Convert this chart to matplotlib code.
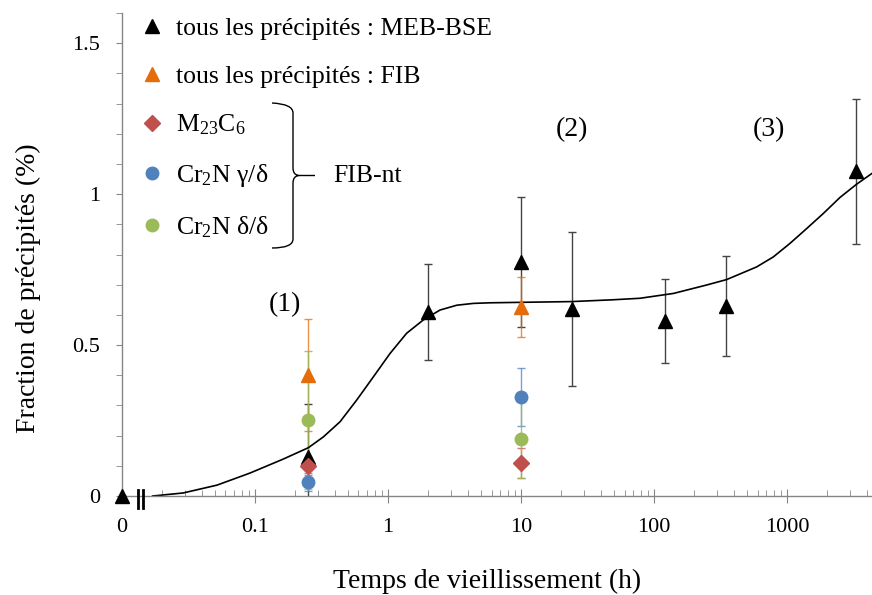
import matplotlib
matplotlib.use('Agg')
import matplotlib.pyplot as plt
from matplotlib.path import Path
from matplotlib.patches import PathPatch
from matplotlib.lines import Line2D
from matplotlib.ticker import FixedLocator, FixedFormatter, LogLocator, MultipleLocator, NullFormatter

plt.rcParams['font.family'] = ['Liberation Serif', 'DejaVu Serif']
plt.rcParams['mathtext.fontset'] = 'custom'
plt.rcParams['mathtext.rm'] = 'Liberation Serif'
plt.rcParams['mathtext.it'] = 'Liberation Serif:italic'

# temps 0 est affiché à la position 0.01 (axe coupé)
T_ZERO = 0.01

# tous les précipités : MEB-BSE
t_meb = [0, 0.25, 2, 10, 24, 120, 350, 3300]
f_meb = [0, 0.13, 0.61, 0.775, 0.62, 0.58, 0.63, 1.075]
e_meb = [0, 0.175, 0.16, 0.215, 0.255, 0.14, 0.165, 0.24]

# tous les précipités : FIB
t_fib = [0.25, 10]
f_fib = [0.40, 0.627]
e_fib = [0.186, 0.10]

# FIB-nt
t_nt = [0.25, 10]
f_m23 = [0.10, 0.11]
e_m23 = [0.03, 0.05]
f_gd = [0.047, 0.328]
e_gd = [0.03, 0.095]
f_dd = [0.252, 0.19]
e_dd = [0.228, 0.13]

# courbe
curve_t = [0.017, 0.0288, 0.0518, 0.0917, 0.1625, 0.252, 0.327, 0.436, 0.582, 0.777,
           1.035, 1.38, 1.84, 2.46, 3.29, 4.38, 5.85, 11.7, 24, 49, 78.5, 140, 249,
           352, 592, 789, 1054, 1406, 1876, 2502, 3339, 4365]
curve_f = [0.0, 0.010, 0.036, 0.076, 0.122, 0.160, 0.196, 0.246, 0.318, 0.395,
           0.472, 0.539, 0.583, 0.616, 0.632, 0.638, 0.640, 0.642, 0.644, 0.650, 0.655,
           0.671, 0.699, 0.717, 0.759, 0.792, 0.837, 0.886, 0.936, 0.989, 1.033, 1.069]

x_ticks = [0.01, 0.1, 1, 10, 100, 1000]
x_labels = ['0', '0.1', '1', '10', '100', '1000']
y_ticks = [0, 0.5, 1, 1.5]
y_labels = ['0', '0.5', '1', '1.5']

BLACK = '#000000'
ORANGE = '#E46C0A'
RED = '#C0504D'
BLUE = '#4F81BD'
GREEN = '#9BBB59'
AXIS = '#868686'

W, H = 872, 595
fig = plt.figure(figsize=(W / 100, H / 100), dpi=100)
ax = fig.add_axes([122 / W, 99 / H, 750 / W, 483 / H])


def px(x, y):
    # pixels -> fraction de figure
    return x / W, 1 - y / H


t_meb_plot = [T_ZERO if t == 0 else t for t in t_meb]

# barres d'erreur
ax.errorbar(t_meb_plot, f_meb, yerr=e_meb, fmt='none', ecolor='#444444', elinewidth=1, capsize=3, zorder=2)
ax.errorbar(t_fib, f_fib, yerr=e_fib, fmt='none', ecolor=ORANGE, elinewidth=1, capsize=3, alpha=0.75, zorder=2)
ax.errorbar(t_nt, f_m23, yerr=e_m23, fmt='none', ecolor=RED, elinewidth=1, capsize=3, alpha=0.75, zorder=2)
ax.errorbar(t_nt, f_gd, yerr=e_gd, fmt='none', ecolor=BLUE, elinewidth=1, capsize=3, alpha=0.75, zorder=2)
ax.errorbar(t_nt, f_dd, yerr=e_dd, fmt='none', ecolor=GREEN, elinewidth=1, capsize=3, alpha=0.85, zorder=2)

# courbe
ax.plot(curve_t, curve_f, color='black', lw=1.2, zorder=2.5)

# points
ax.plot(t_meb_plot, f_meb, '^', color=BLACK, ms=10, ls='none', clip_on=False, zorder=3,
        label='tous les précipités : MEB-BSE')
ax.plot(t_fib, f_fib, '^', color=ORANGE, ms=10, ls='none', zorder=3,
        label='tous les précipités : FIB')
ax.plot(t_nt, f_m23, 'D', color=RED, ms=8, ls='none', zorder=3, label='M$_{23}$C$_6$')
ax.plot(t_nt, f_gd, 'o', color=BLUE, ms=9, ls='none', zorder=3, label='Cr$_2$N γ/δ')
ax.plot(t_nt, f_dd, 'o', color=GREEN, ms=9, ls='none', zorder=3, label='Cr$_2$N δ/δ')

ax.set_xscale('log')
ax.set_xlim(0.01, 10 ** 3.639)
ax.set_ylim(0, 1.6)

ax.xaxis.set_major_locator(FixedLocator(x_ticks))
ax.xaxis.set_major_formatter(FixedFormatter(x_labels))
ax.xaxis.set_minor_locator(LogLocator(base=10, subs=range(2, 10), numticks=20))
ax.xaxis.set_minor_formatter(NullFormatter())
ax.yaxis.set_major_locator(FixedLocator(y_ticks))
ax.yaxis.set_major_formatter(FixedFormatter(y_labels))
ax.yaxis.set_minor_locator(MultipleLocator(0.1))

for s in ['top', 'right']:
    ax.spines[s].set_visible(False)
for s in ['left', 'bottom']:
    ax.spines[s].set_color(AXIS)
    ax.spines[s].set_linewidth(1)

ax.tick_params(axis='x', which='major', direction='inout', length=10, color=AXIS, labelsize=16, pad=11)
ax.tick_params(axis='x', which='minor', direction='in', length=4, color=AXIS)
ax.tick_params(axis='y', which='both', direction='out', length=4, color=AXIS, labelsize=16, pad=12)

ax.set_xlabel('Temps de vieillissement (h)', fontsize=20)
ax.xaxis.set_label_coords(0.487, -0.15)
ax.set_ylabel('Fraction de précipités (%)', fontsize=20)
ax.yaxis.set_label_coords(-0.108, 0.43)

# étiquettes (1), (2), (3)
ax.text(0.168, 0.635, '(1)', fontsize=20, ha='center', va='center')
ax.text(24.2, 1.215, '(2)', fontsize=20, ha='center', va='center')
ax.text(732, 1.215, '(3)', fontsize=20, ha='center', va='center')

ax.legend(loc='upper left', bbox_to_anchor=px(139, 17), bbox_transform=fig.transFigure,
          frameon=False, fontsize=18.5, handlelength=1.0, handletextpad=0.44,
          labelspacing=0.97, borderaxespad=0, borderpad=0, numpoints=1)

# accolade FIB-nt
verts = [px(272, 103), px(293, 104), px(293, 113), px(293, 168), px(293, 175), px(299, 175.5),
         px(315, 175.5),
         px(299, 175.5), px(293, 176), px(293, 183), px(293, 239), px(293, 248), px(272, 248)]
codes = [Path.MOVETO, Path.CURVE3, Path.CURVE3, Path.LINETO, Path.CURVE3, Path.CURVE3,
         Path.LINETO,
         Path.MOVETO, Path.CURVE3, Path.CURVE3, Path.LINETO, Path.CURVE3, Path.CURVE3]
fig.patches.append(PathPatch(Path(verts, codes), fill=False, lw=1, color='black',
                             transform=fig.transFigure))
fig.text(*px(333, 176), 'FIB-nt', fontsize=18.5, ha='left', va='center')

# coupure de l'axe
for xb in [138.3, 143.3]:
    x0, y0 = px(xb, 490)
    x1, y1 = px(xb, 508)
    fig.lines.append(Line2D([x0, x1], [y0, y1], color='black', lw=2, transform=fig.transFigure))

fig.savefig('out.png', dpi=100)
